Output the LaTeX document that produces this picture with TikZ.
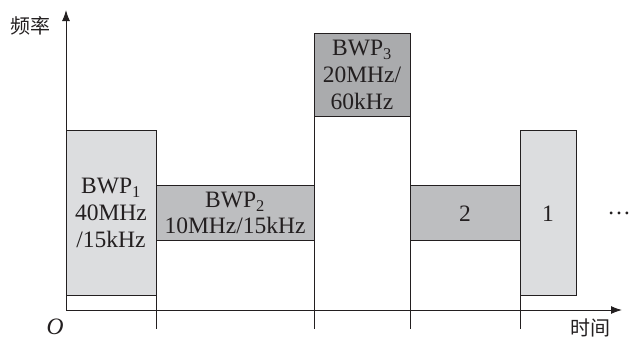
\documentclass[tikz,border=0pt]{standalone}
\usepackage{fontspec}
\setmainfont{Liberation Serif}
\newfontfamily\cjkfont{Noto Sans CJK SC}[Scale=1.0]
\usepackage{xcolor}
\usepackage{tikz}
\usetikzlibrary{arrows.meta,positioning,calc}

\definecolor{lightband}{RGB}{220,221,223}
\definecolor{midband}{RGB}{189,190,192}
\definecolor{darkband}{RGB}{170,171,173}
\definecolor{inkline}{RGB}{35,31,32}

\begin{document}
\begin{tikzpicture}[
    x=1pt, y=-1pt,
    font=\fontsize{23.5}{27}\selectfont,
    every node/.style = {align=center, text=inkline},
    band/.style   = {draw=inkline, rectangle, line width=1pt, inner sep=0pt,
                     outer sep=0pt},
    axis/.style   = {draw=inkline, line width=1pt, -{Latex[length=11pt,width=8pt]}},
    tick/.style   = {draw=inkline, line width=1pt},
    cjk/.style    = {font=\cjkfont\fontsize{20}{22}\selectfont},
]
\useasboundingbox (0,0) rectangle (631,341);

% ---------------- Axes ----------------
\coordinate (O)    at (66,310);
\coordinate (ytip) at (66,10);
\coordinate (xtip) at (622,310);

% ---------------- Bandwidth parts ----------------
\node[band, fill=lightband, minimum width=90pt, minimum height=165pt] (bwp1) at (111,213.3)
    {BWP\textsubscript{1}\\40MHz\\/15kHz};
\node[band, fill=midband, minimum width=158pt, minimum height=55pt] (bwp2) at (235,213.3)
    {BWP\textsubscript{2}\\[-1pt]10MHz/15kHz};
\node[band, fill=darkband, minimum width=96pt, minimum height=83pt] (bwp3) at (362,75.3)
    {BWP\textsubscript{3}\\20MHz/\\60kHz};
\node[band, fill=midband, minimum width=110pt, minimum height=55pt] (band2) at (465,213.3) {2};
\node[band, fill=lightband, minimum width=56pt, minimum height=165pt] (band1) at (548,213.3) {1};

\node (dots) at (619,213) {\dots};

% ---------------- Switching instants ----------------
\draw[tick] (bwp1.south east) -- ++(0,33);
\draw[tick] (bwp3.south west) -- ++(0,212.3);
\draw[tick] (bwp3.south east) -- ++(0,212.3);
\draw[tick] (band1.south west) -- ++(0,33);

% ---------------- Axes and labels ----------------
\draw[axis] (O) -- (ytip);
\draw[axis] (O) -- (xtip);

\node[cjk] (freq) at (30,26) {频率};
\node[cjk] (time) at (590,328) {时间};
\node (origin) at (55,327) {\textit{O}};

\end{tikzpicture}
\end{document}
